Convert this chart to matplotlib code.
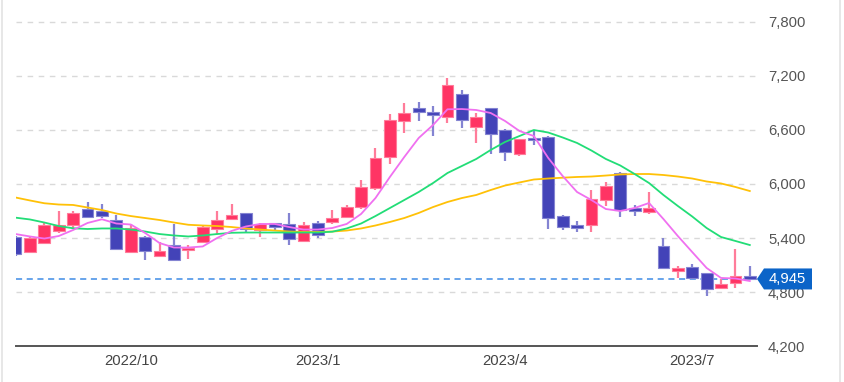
import matplotlib
matplotlib.use("Agg")
import matplotlib.pyplot as plt
from matplotlib.patches import Polygon
from matplotlib.lines import Line2D
import numpy as np

plt.rcParams['font.family'] = ['Liberation Sans', 'DejaVu Sans']

# ---- data (weekly candles) ----
opens  = [5415, 5241, 5350, 5475, 5540, 5720, 5700, 5600, 5241, 5415,
          5200, 5320, 5265, 5360, 5500, 5610, 5675, 5490, 5565, 5555,
          5370, 5565, 5580, 5635, 5745, 5952, 6296, 6705, 6840, 6795,
          6740, 7000, 6630, 6840, 6605, 6335, 6515, 6525, 5645, 5545,
          5545, 5825, 6125, 5735, 5685, 5310, 5037, 5075, 5007, 4840,
          4905, 4980]
highs  = [5420, 5415, 5575, 5700, 5700, 5800, 5780, 5660, 5550, 5420,
          5360, 5550, 5325, 5530, 5695, 5780, 5680, 5565, 5570, 5680,
          5580, 5585, 5710, 5770, 6045, 6400, 6775, 6900, 6915, 6870,
          7175, 7045, 6785, 6845, 6610, 6500, 6585, 6530, 5650, 5590,
          5935, 6025, 6130, 5770, 5915, 5395, 5085, 5110, 5010, 4940,
          5275, 5085]
lows   = [5205, 5235, 5345, 5450, 5505, 5625, 5620, 5270, 5235, 5155,
          5195, 5140, 5165, 5355, 5440, 5605, 5470, 5415, 5480, 5320,
          5365, 5395, 5550, 5630, 5720, 5930, 6220, 6565, 6705, 6530,
          6675, 6620, 6450, 6335, 6260, 6315, 6435, 5505, 5490, 5470,
          5470, 5750, 5635, 5645, 5665, 5060, 4950, 4950, 4755, 4835,
          4840, 4940]
closes = [5220, 5396, 5548, 5545, 5675, 5630, 5640, 5275, 5507, 5256,
          5260, 5156, 5290, 5525, 5600, 5655, 5500, 5550, 5525, 5390,
          5540, 5435, 5620, 5745, 5970, 6285, 6711, 6785, 6800, 6770,
          7100, 6711, 6750, 6555, 6350, 6495, 6490, 5620, 5525, 5510,
          5830, 5980, 5710, 5705, 5735, 5065, 5063, 4952, 4830, 4890,
          4978, 4945]

ma_short = [5444, 5417, 5394, 5422, 5489, 5567, 5608, 5561, 5550, 5456,
            5344, 5294, 5294, 5306, 5400, 5478, 5528, 5556, 5556, 5522,
            5494, 5494, 5511, 5556, 5667, 5844, 6078, 6300, 6511, 6656,
            6830, 6833, 6822, 6789, 6700, 6589, 6533, 6289, 6089, 5911,
            5822, 5722, 5700, 5733, 5789, 5611, 5422, 5244, 5067, 4956,
            4950, 4922]
ma_mid = [5626, 5606, 5572, 5533, 5508, 5500, 5506, 5506, 5494, 5472,
          5444, 5428, 5417, 5428, 5444, 5458, 5461, 5461, 5461, 5461,
          5461, 5461, 5470, 5506, 5561, 5644, 5733, 5822, 5911, 6011,
          6122, 6200, 6278, 6378, 6467, 6533, 6600, 6572, 6517, 6456,
          6372, 6278, 6206, 6111, 6011, 5878, 5756, 5639, 5511, 5411,
          5367, 5322]
ma_long = [5850, 5817, 5786, 5772, 5767, 5739, 5711, 5672, 5644, 5622,
           5600, 5572, 5547, 5539, 5533, 5522, 5506, 5494, 5483, 5472,
           5467, 5467, 5472, 5483, 5506, 5539, 5578, 5622, 5678, 5744,
           5800, 5844, 5878, 5933, 5983, 6017, 6050, 6061, 6070, 6078,
           6083, 6094, 6106, 6111, 6111, 6100, 6083, 6061, 6028, 6006,
           5967, 5922]

tick_pos = [8, 21, 34, 47]
tick_labels = ["2022/10", "2023/1", "2023/4", "2023/7"]
y_ticks = [4200, 4800, 5400, 6000, 6600, 7200, 7800]
last_price = 4945

# ---- figure ----
W, H = 845, 382
fig = plt.figure(figsize=(W / 100, H / 100), dpi=100)
fig.patch.set_facecolor('white')
ax = fig.add_axes([16 / W, (H - 346) / H, (757 - 16) / W, 346 / H])
ax.set_facecolor('white')

x = np.arange(len(opens))
RED, BLUE = '#ff3464', '#4343b8'
RED_E, BLUE_E = '#ff7c9a', '#8484d2'

for g in y_ticks[1:]:
    ax.axhline(g, color='#d9d9d9', lw=1.0, ls=(0, (4, 4)), zorder=0)

ax.axhline(last_price, color='#3f8be6', lw=1.1, ls=(0, (4, 3)), zorder=1)

for i in range(len(opens)):
    o, h, l, c = opens[i], highs[i], lows[i], closes[i]
    up = c >= o
    col = RED if up else BLUE
    ecol = RED_E if up else BLUE_E
    ax.vlines(x[i], l, h, color=ecol, lw=1.6, zorder=2)
    lo, hi = min(o, c), max(o, c)
    if hi - lo < 25:
        mid = (hi + lo) / 2
        lo, hi = mid - 12.5, mid + 12.5
    ax.bar(x[i], hi - lo, bottom=lo, width=0.82, color=col,
           edgecolor=ecol, linewidth=0.8, zorder=3)

ax.plot(x, ma_long, color='#ffc107', lw=1.3, zorder=4)
ax.plot(x, ma_mid, color='#22dd77', lw=1.3, zorder=4)
ax.plot(x, ma_short, color='#f070f0', lw=1.3, zorder=5)

ax.set_xlim(0.03, 51.5)
ax.set_ylim(4200, 7800 + 22 * 600 / 54)

for s in ['top', 'left', 'right']:
    ax.spines[s].set_visible(False)
ax.spines['bottom'].set_color('#555555')
ax.spines['bottom'].set_linewidth(1.4)

ax.yaxis.tick_right()
ax.set_yticks(y_ticks)
ax.set_yticklabels([f"{v:,}" for v in y_ticks])
ax.tick_params(axis='y', length=0, pad=8, labelsize=10.7, labelcolor='#555555')
ax.set_xticks(tick_pos)
ax.set_xticklabels(tick_labels)
ax.tick_params(axis='x', length=0, pad=6, labelsize=10.7, labelcolor='#444444')

# last price tag
fig.canvas.draw()
yc = ax.transData.transform((0, last_price))[1]  # display pixels from bottom
def fx(px):
    return px / W
def fy(py):
    return py / H
hh = 10.5
pts = [(fx(757), fy(yc)), (fx(764), fy(yc + hh)), (fx(812), fy(yc + hh)),
       (fx(812), fy(yc - hh)), (fx(764), fy(yc - hh))]
fig.add_artist(Polygon(pts, closed=True, transform=fig.transFigure,
                       facecolor='#0b64c8', edgecolor='none', zorder=10))
fig.text(fx(787), fy(yc), f"{last_price:,}", color='white', fontsize=10.7,
         ha='center', va='center', zorder=11)

# panel borders
fig.add_artist(Line2D([2 / W, 2 / W], [0, 1], transform=fig.transFigure,
                      color='#e3e3e3', lw=1.2))
fig.add_artist(Line2D([840 / W, 840 / W], [0, 1], transform=fig.transFigure,
                      color='#e3e3e3', lw=1.2))

fig.savefig('out.png', dpi=100, facecolor='white')
